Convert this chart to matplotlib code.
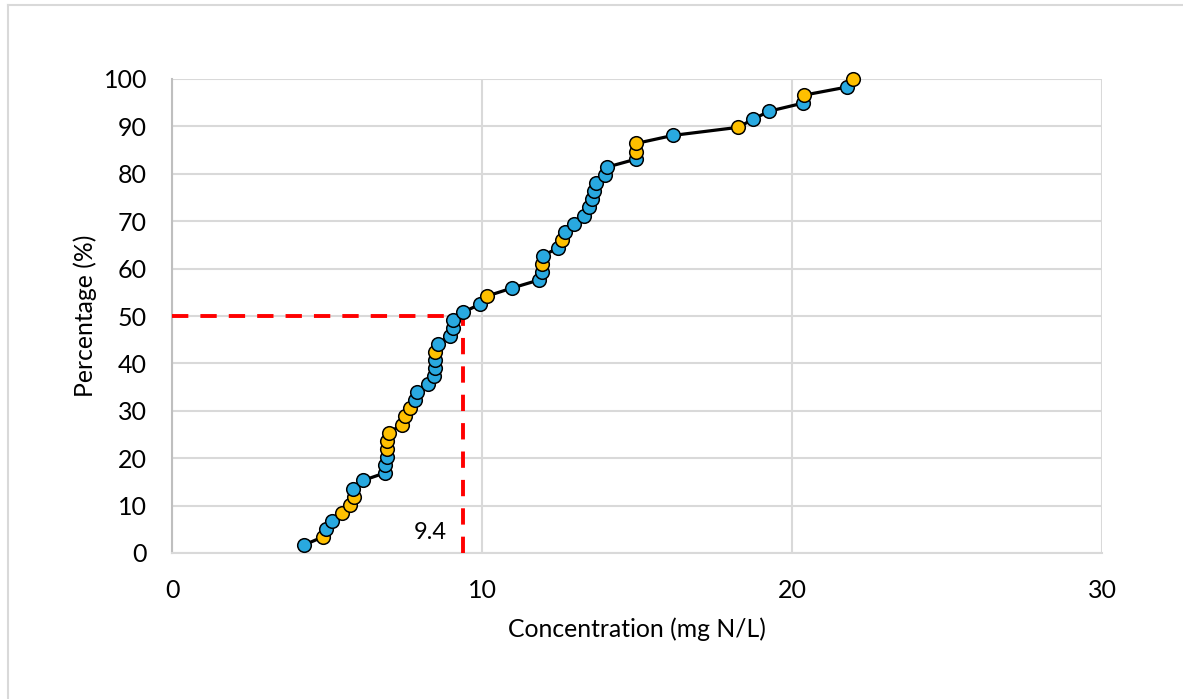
import matplotlib
matplotlib.use("Agg")
import matplotlib.pyplot as plt
from matplotlib.lines import Line2D

plt.rcParams['font.family'] = ['Lato', 'DejaVu Sans']

# Sorted concentrations (mg N/L) and cumulative percentages
conc = [4.26, 4.87, 4.97, 5.16, 5.48, 5.74, 5.87, 5.84, 6.16, 6.87,
        6.87, 6.94, 6.94, 6.94, 7.00, 7.42, 7.52, 7.68, 7.84, 7.90,
        8.26, 8.45, 8.48, 8.48, 8.48, 8.58, 8.97, 9.06, 9.06, 9.39,
        9.94, 10.16, 10.97, 11.84, 11.94, 11.94, 11.97, 12.45, 12.58, 12.68,
        12.97, 13.29, 13.45, 13.55, 13.61, 13.68, 13.97, 14.03, 14.97, 14.97,
        14.97, 16.16, 18.26, 18.74, 19.26, 20.35, 20.39, 21.77, 21.97]
pct = [1.7, 3.4, 5.1, 6.8, 8.5, 10.2, 11.9, 13.6, 15.3, 16.9,
       18.6, 20.3, 22.0, 23.7, 25.4, 27.1, 28.8, 30.5, 32.2, 33.9,
       35.6, 37.3, 39.0, 40.7, 42.4, 44.1, 45.8, 47.5, 49.2, 50.8,
       52.5, 54.2, 55.9, 57.6, 59.3, 61.0, 62.7, 64.4, 66.1, 67.8,
       69.5, 71.2, 72.9, 74.6, 76.3, 78.0, 79.7, 81.4, 83.1, 84.7,
       86.4, 88.1, 89.8, 91.5, 93.2, 94.9, 96.6, 98.3, 100.0]
# 'B' = blue marker, 'Y' = yellow marker
group = list("BYBBYYYBBB"
             "BBYYYYYYBB"
             "BBBBYBBBBB"
             "BYBBBYBBYB"
             "BBBBBBBBBY"
             "YBYBBBYBY")

median_x = 9.4
median_y = 50
xticks = [0, 10, 20, 30]
yticks = list(range(0, 101, 10))

blue = '#29A9E0'
yellow = '#FFC000'

fig = plt.figure(figsize=(11.83, 6.99), dpi=100)
ax = fig.add_axes([172/1183, 1-553/699, (1102-172)/1183, (553-79)/699])

ax.set_xlim(0, 30)
ax.set_ylim(0, 100)
ax.set_xticks(xticks)
ax.set_yticks(yticks)
ax.grid(True, color='#D9D9D9', linewidth=1.5)
ax.set_axisbelow(True)
for s in ['top', 'right']:
    ax.spines[s].set_visible(False)
ax.spines['left'].set_color('#BFBFBF')
ax.spines['left'].set_linewidth(1.5)
ax.spines['bottom'].set_color('#D9D9D9')
ax.spines['bottom'].set_linewidth(1.5)
ax.tick_params(length=0, labelsize=18, colors='black')
ax.tick_params(axis='y', pad=18)
ax.tick_params(axis='x', pad=19)

ax.plot([0, median_x], [median_y, median_y], color='#FF0000', lw=2.8,
        dashes=(4.2, 3.1), zorder=3)
ax.plot([median_x, median_x], [0, median_y], color='#FF0000', lw=2.8,
        dashes=(4.2, 3.1), zorder=3)
ax.text(8.87, 4.4, '9.4', fontsize=17, ha='right', va='center')

ax.plot(conc, pct, color='black', lw=2.3, zorder=4)
for x, y, g in zip(conc, pct, group):
    ax.plot(x, y, 'o', ms=9.8, mfc=blue if g == 'B' else yellow,
            mec='black', mew=1.1, zorder=5, clip_on=False)

ax.set_xlabel('Concentration (mg N/L)', fontsize=17.8)
ax.set_ylabel('Percentage (%)', fontsize=17.8)
ax.xaxis.set_label_coords(0.5, (553-629)/474)
ax.xaxis.label.set_va('center')
ax.yaxis.set_label_coords((85-172)/930, 0.5)
ax.yaxis.label.set_va('center')

fig.add_artist(Line2D([8/1183, 1], [1-5/699, 1-5/699], color='#D9D9D9', lw=1.5))
fig.add_artist(Line2D([8/1183, 8/1183], [0, 1-5/699], color='#D9D9D9', lw=1.5))

fig.savefig('out.png', dpi=100)
